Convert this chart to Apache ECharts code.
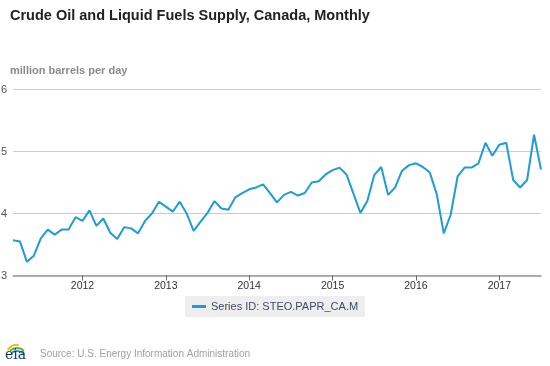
<!DOCTYPE html>
<html>
<head>
<meta charset="utf-8">
<script src="https://cdn.jsdelivr.net/npm/echarts@6/dist/echarts.min.js"></script>
<style>html,body{margin:0;padding:0;background:#fff}#c{width:550px;height:366px}</style>
</head>
<body>
<div id="c"></div>
<script>
var months = [];
(function(){
  for (var y = 2011; y <= 2017; y++) {
    for (var m = 1; m <= 12; m++) {
      if (y === 2011 && m < 3) continue;
      if (y === 2017 && m > 7) continue;
      months.push(y + '-' + (m < 10 ? '0' + m : m));
    }
  }
})();
var supply = [
  3.57, 3.55, 3.22, 3.32, 3.60, 3.74, 3.66, 3.74, 3.74, 3.94,
  3.88, 4.05, 3.80, 3.92, 3.69, 3.59, 3.78, 3.76, 3.68, 3.88, 4.00, 4.19,
  4.11, 4.03, 4.19, 4.00, 3.72, 3.87, 4.01, 4.20, 4.08, 4.06, 4.26, 4.33,
  4.39, 4.42, 4.47, 4.33, 4.18, 4.30, 4.35, 4.29, 4.33, 4.50, 4.52, 4.63,
  4.70, 4.74, 4.63, 4.32, 4.01, 4.20, 4.62, 4.75, 4.30, 4.42, 4.69, 4.78,
  4.81, 4.75, 4.66, 4.31, 3.68, 3.98, 4.60, 4.74, 4.74, 4.81, 5.14, 4.93,
  5.11, 5.14, 4.54, 4.42, 4.54, 5.27, 4.71
];
var yTicks = [3, 4, 5, 6];
var seriesName = 'Series ID: STEO.PAPR_CA.M';

function isJan(i) { return months[i].slice(5) === '01'; }
var FONT = 'Liberation Sans, Arial, sans-serif';

var chart = echarts.init(document.getElementById('c'), null, {renderer: 'canvas'});
chart.setOption({
  animation: false,
  title: [
    {text: 'Crude Oil and Liquid Fuels Supply, Canada, Monthly', left: 10, top: 8, padding: 0,
     textStyle: {fontFamily: FONT, fontSize: 14.5, fontWeight: 'bold', color: '#222'}},
    {text: 'million barrels per day', left: 10, top: 65, padding: 0,
     textStyle: {fontFamily: FONT, fontSize: 11, fontWeight: 'bold', color: '#8a8a8a'}},
    {text: 'Source: U.S. Energy Information Administration', left: 40, top: 349, padding: 0,
     textStyle: {fontFamily: FONT, fontSize: 10, fontWeight: 'normal', color: '#a0a0a0'}}
  ],
  legend: {
    data: [seriesName], left: 185, top: 296,
    padding: [5, 7, 5, 7],
    backgroundColor: '#eeeeee',
    itemWidth: 14, itemHeight: 3,
    icon: 'rect',
    textStyle: {fontFamily: FONT, fontSize: 11, color: '#3c4a68'}
  },
  grid: {left: 13, right: 9, top: 89.5, bottom: 90.5, containLabel: false, outerBoundsMode: 'none'},
  xAxis: {
    type: 'category', data: months, boundaryGap: false,
    axisLine: {lineStyle: {color: '#999', width: 1.5}},
    axisTick: {show: true, length: 5, interval: function(i){ return isJan(i); }, lineStyle: {color: '#666'}},
    axisLabel: {interval: function(i){ return isJan(i); }, formatter: function(v){ return v.slice(0, 4); },
      fontFamily: FONT, fontSize: 10.5, color: '#333', margin: 5},
    splitLine: {show: false}
  },
  yAxis: {
    type: 'value', min: yTicks[0], max: yTicks[yTicks.length - 1], interval: 1,
    axisLine: {show: false}, axisTick: {show: false},
    axisLabel: {margin: 6, fontFamily: FONT, fontSize: 11, color: '#555'},
    splitLine: {lineStyle: {color: '#cccccc', width: 1}}
  },
  series: [{
    name: seriesName, type: 'line', data: supply, symbol: 'none',
    lineStyle: {color: '#1f9bd7', width: 2}, itemStyle: {color: '#1f9bd7'}
  }],
  graphic: [
    {type: 'arc', shape: {cx: 17, cy: 356, r: 11, startAngle: -Math.PI * 0.82, endAngle: -Math.PI * 0.45}, style: {stroke: '#f2b800', lineWidth: 1.8, fill: null}},
    {type: 'arc', shape: {cx: 17, cy: 358, r: 10, startAngle: -Math.PI * 0.75, endAngle: -Math.PI * 0.25}, style: {stroke: '#6cb33f', lineWidth: 1.8, fill: null}},
    {type: 'arc', shape: {cx: 17, cy: 360, r: 9, startAngle: -Math.PI * 0.7, endAngle: -Math.PI * 0.2}, style: {stroke: '#2a8fcf', lineWidth: 1.8, fill: null}},
    {type: 'text', left: 5, top: 348, style: {text: 'eia', fontFamily: 'DejaVu Serif, serif', fontSize: 14, fill: '#1d3a6e'}}
  ]
});
</script>
</body>
</html>
